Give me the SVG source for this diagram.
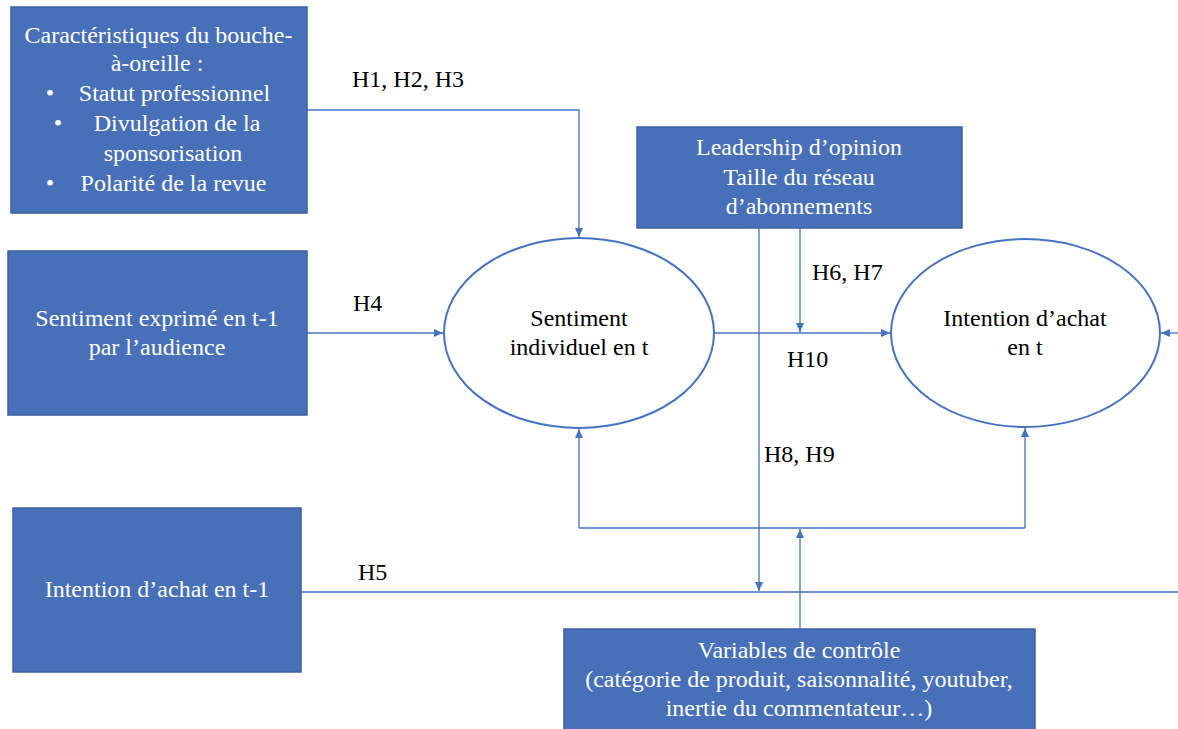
<svg xmlns="http://www.w3.org/2000/svg" width="1178" height="729" viewBox="0 0 1178 729">
<style>
.box{fill:#4870B8;stroke:#3D62A4;stroke-width:1.5}
.wt{font-family:'Liberation Serif','Times New Roman',serif;font-size:24px;fill:#ffffff;text-anchor:middle}
.bt{font-family:'Liberation Serif','Times New Roman',serif;font-size:24px;fill:#000000;text-anchor:middle}
.lb{font-family:'Liberation Serif','Times New Roman',serif;font-size:24px;fill:#000000}
.ell{fill:#ffffff;stroke:#4472C4;stroke-width:2}
.ln{fill:none;stroke:#4472C4;stroke-width:1.3}
</style>
<defs>
<marker id="ah" markerWidth="10" markerHeight="10" refX="9" refY="5" orient="auto" markerUnits="userSpaceOnUse">
<path d="M0,1 L9,5 L0,9 Z" fill="#4472C4"/>
</marker>
</defs>
<rect width="1178" height="729" fill="#ffffff"/>
<g id="connectors">
<path class="ln" d="M307,110 H579 V237" marker-end="url(#ah)"/>
<path class="ln" d="M307,333 H443" marker-end="url(#ah)"/>
<path class="ln" d="M714,333 H890" marker-end="url(#ah)"/>
<path class="ln" d="M800,228 V332" marker-end="url(#ah)"/>
<path class="ln" d="M759,228 V591" marker-end="url(#ah)"/>
<path class="ln" d="M301,592 H1178"/>
<path class="ln" d="M1178,333 H1161" marker-end="url(#ah)"/>
<path class="ln" d="M800,629 V529" marker-end="url(#ah)"/>
<path class="ln" d="M579,528 H1025"/>
<path class="ln" d="M579,528 V429" marker-end="url(#ah)"/>
<path class="ln" d="M1025,528 V428" marker-end="url(#ah)"/>
<text class="lb" x="352" y="87">H1, H2, H3</text>
<text class="lb" x="353" y="311">H4</text>
<text class="lb" x="812" y="280">H6, H7</text>
<text class="lb" x="787" y="367">H10</text>
<text class="lb" x="764" y="462">H8, H9</text>
<text class="lb" x="358" y="580">H5</text>
</g>
<g id="n_caracteristiques">
<rect class="box" x="11" y="7" width="296" height="206"/>
<text class="wt" x="158.5" y="43">Caractéristiques du bouche-</text>
<text class="wt" x="157" y="71">à-oreille :</text>
<text class="wt" x="50" y="101">•</text>
<text class="wt" x="174.5" y="101">Statut professionnel</text>
<text class="wt" x="58" y="131">•</text>
<text class="wt" x="177" y="131">Divulgation de la</text>
<text class="wt" x="173" y="161">sponsorisation</text>
<text class="wt" x="50" y="191">•</text>
<text class="wt" x="173.5" y="191">Polarité de la revue</text>
</g>
<g id="n_sentiment_t1">
<rect class="box" x="8" y="251" width="299" height="164"/>
<text class="wt" x="157" y="326">Sentiment exprimé en t-1</text>
<text class="wt" x="157" y="355">par l’audience</text>
</g>
<g id="n_intention_t1">
<rect class="box" x="13" y="508" width="288" height="164"/>
<text class="wt" x="157" y="597">Intention d’achat en t-1</text>
</g>
<g id="n_leadership">
<rect class="box" x="637" y="127" width="325" height="101"/>
<text class="wt" x="799" y="155">Leadership d’opinion</text>
<text class="wt" x="799" y="185">Taille du réseau</text>
<text class="wt" x="799" y="214">d’abonnements</text>
</g>
<g id="n_controle">
<rect class="box" x="564" y="629" width="471" height="105"/>
<text class="wt" x="799" y="658">Variables de contrôle</text>
<text class="wt" x="799" y="687">(catégorie de produit, saisonnalité, youtuber,</text>
<text class="wt" x="799" y="716">inertie du commentateur…)</text>
</g>
<g id="n_sentiment_t">
<ellipse class="ell" cx="579" cy="333" rx="135" ry="95"/>
<text class="bt" x="579" y="326">Sentiment</text>
<text class="bt" x="579" y="355">individuel en t</text>
</g>
<g id="n_intention_t">
<ellipse class="ell" cx="1025.5" cy="333" rx="134.5" ry="94"/>
<text class="bt" x="1025" y="326">Intention d’achat</text>
<text class="bt" x="1025" y="355">en t</text>
</g>
</svg>
